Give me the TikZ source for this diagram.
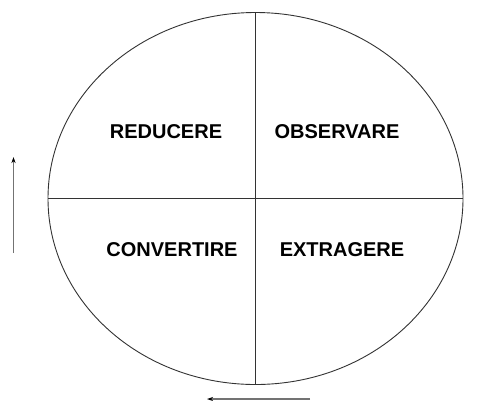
\documentclass[tikz,border=0pt]{standalone}
\usepackage{fontspec}
\setmainfont{Liberation Sans}
\usetikzlibrary{arrows.meta}

\begin{document}
\begin{tikzpicture}[x=1pt, y=-1pt,
    every node/.style={font=\fontsize{20}{24}\selectfont\bfseries},
    frame/.style={draw=black!80, line width=0.9pt},
    flow/.style={draw=black!55, line width=1.3pt, -{Stealth[length=6pt, width=4pt, black]}}]
    \useasboundingbox (0,0) rectangle (497,400);
    \coordinate (O) at (255.5,198.5);
    \coordinate (T) at (255.5,12.5);
    \coordinate (B) at (255.5,384.5);
    \coordinate (L) at (48,198.5);
    \coordinate (R) at (463,198.5);

    \draw[frame] (O) ellipse [x radius=207.5, y radius=186];
    \draw[frame] (T) -- (B);
    \draw[frame] (L) -- (R);

    \node (red) at (166,132) {REDUCERE};
    \node (obs) at (337,132) {OBSERVARE};
    \node (con) at (172,250) {CONVERTIRE};
    \node (ext) at (342,250) {EXTRAGERE};

    \coordinate (up0) at (13.5,253);
    \coordinate (up1) at (13.5,157);
    \coordinate (lf0) at (310,399);
    \coordinate (lf1) at (207,399);
    \draw[flow] (up0) -- (up1);
    \draw[flow] (lf0) -- (lf1);
\end{tikzpicture}
\end{document}
